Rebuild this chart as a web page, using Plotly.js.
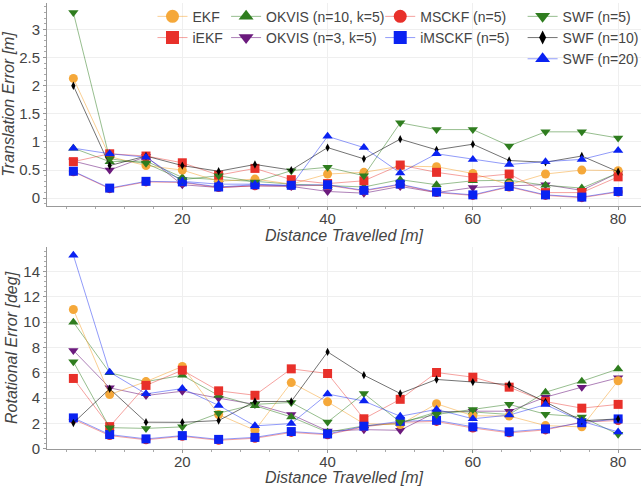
<!DOCTYPE html>
<html>
<head>
<meta charset="utf-8">
<script src="https://cdn.plot.ly/plotly-3.0.1.min.js"></script>
<style>html,body{margin:0;padding:0;background:#fff}#chart{width:644px;height:487px}</style>
</head>
<body>
<div id="chart"></div>
<script>
// Distance travelled [m]
const distance = [5,10,15,20,25,30,35,40,45,50,55,60,65,70,75,80];

// Translation error [m]
const transEKF     = [2.13,0.74,0.58,0.50,0.30,0.34,0.25,0.43,0.46,0.57,0.56,0.44,0.24,0.43,0.50,0.49];
const transIEKF    = [0.65,0.79,0.75,0.63,0.41,0.53,0.33,0.26,0.31,0.59,0.46,0.37,0.43,0.10,0.10,0.38];
const transOKVIS10 = [0.89,0.65,0.66,0.37,0.33,0.30,0.25,0.22,0.20,0.33,0.24,0.31,0.32,0.23,0.18,0.45];
const transOKVIS3  = [0.66,0.50,0.74,0.24,0.19,0.22,0.21,0.12,0.09,0.21,0.10,0.19,0.22,0.24,0.14,0.45];
const transMSCKF   = [0.47,0.17,0.29,0.28,0.19,0.22,0.22,0.23,0.13,0.24,0.10,0.05,0.20,0.05,0.01,0.11];
const transIMSCKF  = [0.48,0.18,0.30,0.29,0.20,0.24,0.23,0.24,0.14,0.25,0.11,0.06,0.21,0.06,0.02,0.12];
const transSWF5    = [3.30,0.70,0.62,0.33,0.40,0.29,0.49,0.55,0.40,1.34,1.22,1.22,0.93,1.18,1.18,1.07];
const transSWF10   = [2.00,0.58,0.75,0.58,0.48,0.60,0.50,0.90,0.70,1.05,0.86,0.96,0.67,0.64,0.75,0.47];
const transSWF20   = [0.89,0.79,0.73,0.30,0.25,0.25,0.22,1.10,0.90,0.45,0.79,0.69,0.60,0.65,0.69,0.85];

// Rotational error [deg]
const rotEKF     = [11.0,4.28,5.30,6.50,2.70,1.45,5.22,3.70,1.97,1.90,3.55,2.60,2.58,1.82,1.72,5.37];
const rotIEKF    = [5.55,1.74,5.00,6.20,4.57,4.22,6.31,5.94,2.36,3.90,6.02,5.65,4.86,3.72,3.20,3.50];
const rotOKVIS10 = [10.0,6.00,5.30,5.80,4.20,3.40,2.50,1.30,1.80,2.00,2.90,2.90,2.70,4.46,5.33,6.30];
const rotOKVIS3  = [7.77,4.81,4.20,4.54,3.99,3.50,2.70,1.40,1.50,1.45,2.90,2.96,2.96,4.07,4.86,5.60];
const rotMSCKF   = [2.33,1.03,0.70,0.97,0.66,0.82,1.28,1.10,1.72,2.08,2.15,1.63,1.25,1.48,2.10,2.22];
const rotIMSCKF  = [2.43,1.11,0.77,1.03,0.73,0.89,1.35,1.16,1.77,2.16,2.24,1.72,1.33,1.56,2.05,2.35];
const rotSWF5    = [6.87,1.66,1.60,1.72,2.80,3.50,3.65,2.10,4.36,2.10,2.70,3.10,3.50,2.72,2.51,1.13];
const rotSWF10   = [2.03,4.73,2.09,2.08,2.22,3.73,3.73,7.65,5.81,4.36,5.47,5.26,5.07,3.70,2.20,2.35];
const rotSWF20   = [15.3,6.05,4.33,4.75,3.42,1.80,1.98,4.32,3.76,2.56,3.10,2.36,2.65,3.48,2.16,1.32];

const seriesNames = ['EKF','iEKF','OKVIS (n=10, k=5)','OKVIS (n=3, k=5)','MSCKF (n=5)','iMSCKF (n=5)','SWF (n=5)','SWF (n=10)','SWF (n=20)'];
const xTitle = 'Distance Travelled [m]';

const specs = [
  {i:3, t:transOKVIS3,  r:rotOKVIS3,  c:'#6b1a7d', lc:'rgba(107,26,125,0.55)', s:'triangle-down', sz:9, lsz:13, lg:'legend2', rk:2},
  {i:2, t:transOKVIS10, r:rotOKVIS10, c:'#2f7d1f', lc:'rgba(47,125,31,0.5)',   s:'triangle-up',   sz:9, lsz:13, lg:'legend2', rk:1},
  {i:4, t:transMSCKF,   r:rotMSCKF,   c:'#e8302a', lc:'rgba(232,48,42,0.45)',  s:'circle',        sz:9, lsz:13, lg:'legend3', rk:1},
  {i:0, t:transEKF,     r:rotEKF,     c:'#f5a83a', lc:'rgba(245,168,58,0.55)', s:'circle',        sz:9, lsz:13, lg:'legend',  rk:1},
  {i:1, t:transIEKF,    r:rotIEKF,    c:'#e8302a', lc:'rgba(232,48,42,0.45)',  s:'square',        sz:9, lsz:13, lg:'legend',  rk:2},
  {i:5, t:transIMSCKF,  r:rotIMSCKF,  c:'#0a22f2', lc:'rgba(10,34,242,0.45)',  s:'square',        sz:9, lsz:13, lg:'legend3', rk:2},
  {i:6, t:transSWF5,    r:rotSWF5,    c:'#2f7d1f', lc:'rgba(47,125,31,0.5)',   s:'triangle-down', sz:9, lsz:13, lg:'legend4', rk:1},
  {i:7, t:transSWF10,   r:rotSWF10,   c:'#000000', lc:'rgba(0,0,0,0.55)',      s:'diamond-tall',  sz:6, lsz:10, lg:'legend4', rk:2},
  {i:8, t:transSWF20,   r:rotSWF20,   c:'#0a22f2', lc:'rgba(10,34,242,0.45)',  s:'triangle-up',   sz:9, lsz:13, lg:'legend4', rk:3}
];

const traces = [];
specs.forEach(sp => {
  traces.push({
    x: distance, y: sp.t, xaxis:'x', yaxis:'y', type:'scatter', mode:'lines+markers',
    name: seriesNames[sp.i], showlegend:false,
    line:{color:sp.lc, width:1}, marker:{color:sp.c, symbol:sp.s, size:sp.sz}
  });
  traces.push({
    x: distance, y: sp.r, xaxis:'x2', yaxis:'y2', type:'scatter', mode:'lines+markers',
    name: seriesNames[sp.i], showlegend:false,
    line:{color:sp.lc, width:1}, marker:{color:sp.c, symbol:sp.s, size:sp.sz}
  });
});
// legend-only entries (larger legend symbols, as in the reference)
specs.forEach(sp => {
  traces.push({
    x:[null], y:[null], xaxis:'x', yaxis:'y', type:'scatter', mode:'lines+markers',
    name: seriesNames[sp.i], legend: sp.lg, legendrank: sp.rk, showlegend:true,
    line:{color:sp.lc, width:1}, marker:{color:sp.c, symbol:sp.s, size:sp.lsz}
  });
});

const FONT = 'Liberation Sans, Arial, Helvetica, sans-serif';
const axisCommon = {
  showline:true, linecolor:'#999', linewidth:1, mirror:false,
  showgrid:true, gridcolor:'#efefef', gridwidth:1, zeroline:false,
  ticks:'outside', ticklen:3, tickcolor:'#999', ticklabelstandoff:-4,
  tickfont:{family:FONT, size:15, color:'#444'}
};
const legCommon = {
  yanchor:'top', xanchor:'left', bgcolor:'rgba(255,255,255,0)', borderwidth:0,
  font:{family:FONT, size:14, color:'#444'}, tracegroupgap:0, orientation:'v'
};

const layout = {
  width:644, height:487,
  margin:{l:47, r:0, t:3, b:38},
  paper_bgcolor:'#fff', plot_bgcolor:'#fff',
  font:{family:FONT, color:'#444'},
  xaxis: Object.assign({}, axisCommon, {
    domain:[0,1], anchor:'y', range:[1.37,83.15], dtick:20, tick0:0,
    minor:{dtick:4, ticklen:2, tickcolor:'#aaa', ticks:'outside', showgrid:false},
    title:{text:'<i>' + xTitle + '</i>', font:{family:FONT, size:16, color:'#444'}, standoff:3}
  }),
  yaxis: Object.assign({}, axisCommon, {
    domain:[0.545,1], anchor:'x', range:[-0.137,3.47], dtick:0.5, tick0:0, ticklabelstandoff:0,
    minor:{dtick:0.1, ticklen:2, tickcolor:'#aaa', ticks:'outside', showgrid:false},
    title:{text:'<i>Translation Error [m]</i>', font:{family:FONT, size:16, color:'#444'}, standoff:1}
  }),
  xaxis2: Object.assign({}, axisCommon, {
    domain:[0,1], anchor:'y2', range:[1.37,83.15], dtick:20, tick0:0,
    minor:{dtick:4, ticklen:2, tickcolor:'#aaa', ticks:'outside', showgrid:false}
  }),
  yaxis2: Object.assign({}, axisCommon, {
    domain:[0,0.453], anchor:'x2', range:[-0.03,15.95], dtick:2, tick0:0, ticklabelstandoff:0,
    minor:{dtick:0.4, ticklen:2, tickcolor:'#aaa', ticks:'outside', showgrid:false},
    title:{text:'<i>Rotational Error [deg]</i>', font:{family:FONT, size:16, color:'#444'}, standoff:1}
  }),
  annotations:[{
    text:'<i>' + xTitle + '</i>', xref:'paper', yref:'paper', x:0.5, y:-0.065,
    xanchor:'center', yanchor:'middle', showarrow:false,
    font:{family:FONT, size:16, color:'#444'}
  }],
  legend:  Object.assign({}, legCommon, {x:0.1776, y:1.005}),
  legend2: Object.assign({}, legCommon, {x:0.3015, y:1.005}),
  legend3: Object.assign({}, legCommon, {x:0.561,  y:1.005}),
  legend4: Object.assign({}, legCommon, {x:0.8007, y:1.005}),
  showlegend:true
};

Plotly.newPlot('chart', traces, layout, {displayModeBar:false, staticPlot:true});
</script>
</body>
</html>
